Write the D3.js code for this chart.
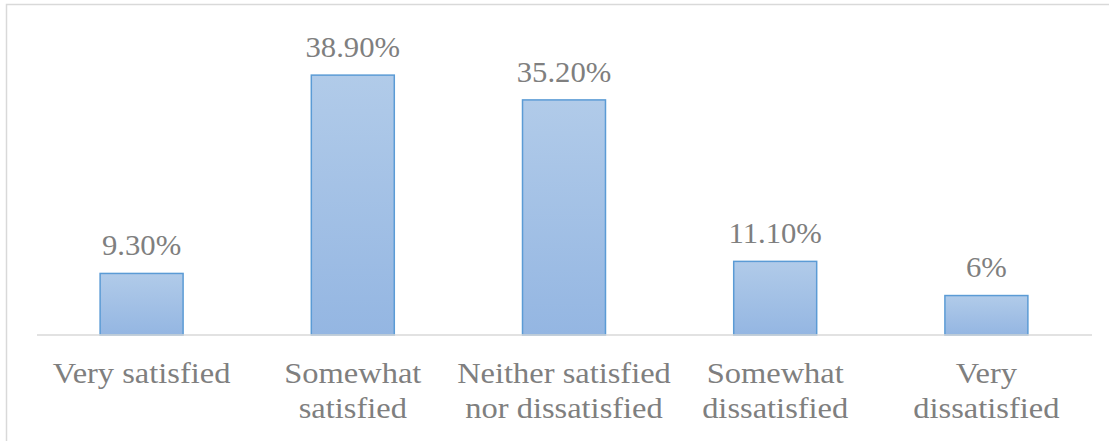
<!DOCTYPE html>
<html>
<head>
<meta charset="utf-8">
<script src="https://cdn.jsdelivr.net/npm/d3@7"></script>
<style>
  html, body { margin: 0; padding: 0; background: #fff; }
  svg { display: block; }
</style>
</head>
<body>
<svg id="chart" width="1109" height="441"></svg>
<script>
// Satisfaction survey results
const categories = [
  ["Very satisfied"],
  ["Somewhat", "satisfied"],
  ["Neither satisfied", "nor dissatisfied"],
  ["Somewhat", "dissatisfied"],
  ["Very", "dissatisfied"]
];
const values = [9.3, 38.9, 35.2, 11.1, 6];
const valueLabels = ["9.30%", "38.90%", "35.20%", "11.10%", "6%"];

const svg = d3.select("#chart");
const W = 1109, H = 441;

// chart area frame (open on right/bottom edges of the canvas)
svg.append("rect")
  .attr("x", 6.5).attr("y", 4.5)
  .attr("width", W + 10).attr("height", H + 10)
  .attr("fill", "#fff")
  .attr("stroke", "#d9d9d9")
  .attr("stroke-width", 1.5);

const defs = svg.append("defs");
const grad = defs.append("linearGradient")
  .attr("id", "barFill")
  .attr("x1", 0).attr("y1", 0).attr("x2", 0).attr("y2", 1);
grad.append("stop").attr("offset", "0%").attr("stop-color", "#b1cbe9");
grad.append("stop").attr("offset", "100%").attr("stop-color", "#94b6e2");

const x = d3.scaleBand()
  .domain(d3.range(categories.length))
  .range([36, 1092])
  .paddingInner(0.6)
  .paddingOuter(0.3);

const y = d3.scaleLinear().domain([0, 45]).range([335, 33.5]);

// bars
svg.append("g").selectAll("rect")
  .data(values)
  .join("rect")
  .attr("x", (d, i) => x(i) + 0.75)
  .attr("y", d => y(d) + 0.75)
  .attr("width", x.bandwidth() - 1.5)
  .attr("height", d => y(0) - y(d) - 0.75)
  .attr("fill", "url(#barFill)")
  .attr("stroke", "#5b9bd5")
  .attr("stroke-width", 1.5);

// baseline
svg.append("line")
  .attr("x1", 37).attr("x2", 1092)
  .attr("y1", y(0)).attr("y2", y(0))
  .attr("stroke", "#d9d9d9")
  .attr("stroke-width", 1.5);

const font = "'Liberation Serif', 'Times New Roman', serif";
const cx = i => x(i) + x.bandwidth() / 2;

// value labels
svg.append("g").selectAll("text")
  .data(values)
  .join("text")
  .attr("transform", (d, i) => `translate(${cx(i)},${y(d) - 17.5}) scale(1.04,1)`)
  .attr("text-anchor", "middle")
  .attr("font-family", font)
  .attr("font-size", 29.5)
  .attr("fill", "#7f7f7f")
  .text((d, i) => valueLabels[i]);

// category labels
const cat = svg.append("g").selectAll("text")
  .data(categories)
  .join("text")
  .attr("transform", (d, i) => `translate(${cx(i)},383) scale(1.065,1)`)
  .attr("text-anchor", "middle")
  .attr("font-family", font)
  .attr("font-size", 30.5)
  .attr("fill", "#7f7f7f");
cat.selectAll("tspan")
  .data(d => d)
  .join("tspan")
  .attr("x", 0)
  .attr("dy", (d, j) => j === 0 ? 0 : 35)
  .text(d => d);
</script>
</body>
</html>
